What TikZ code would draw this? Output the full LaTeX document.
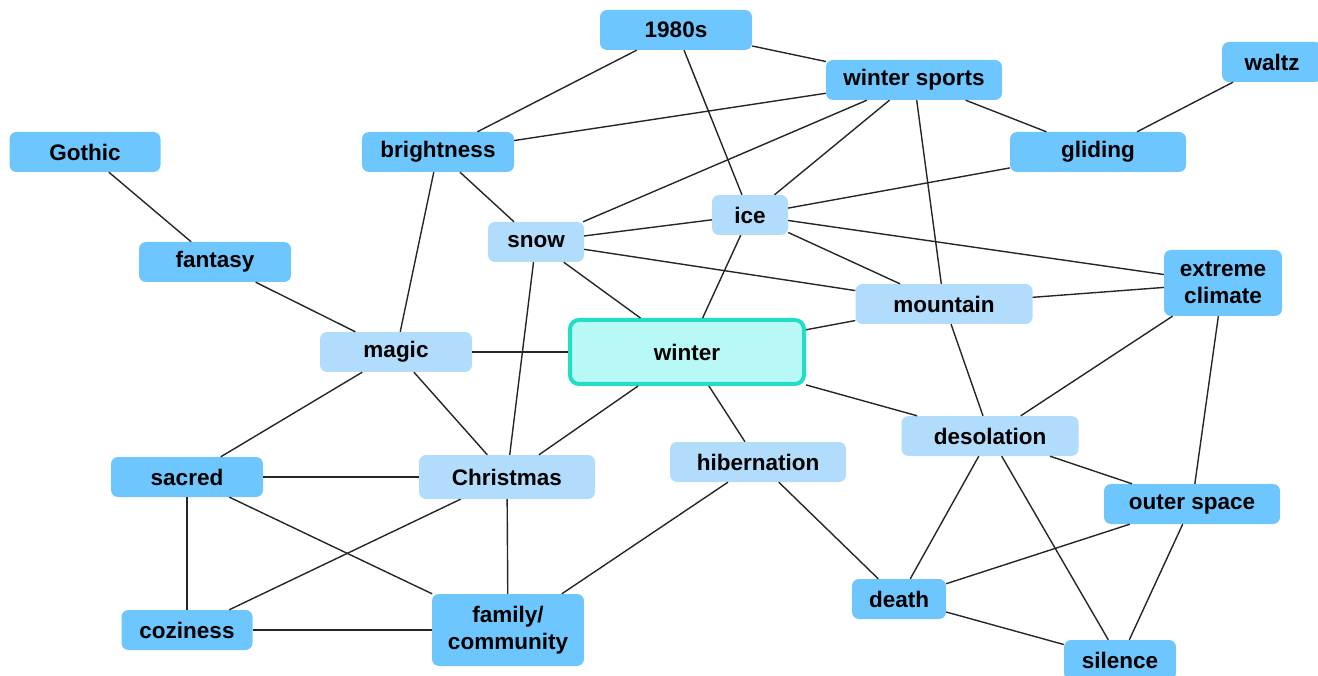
\documentclass[tikz,border=0pt]{standalone}
\usepackage{fontspec}
\setmainfont{Liberation Sans}
\definecolor{darkb}{HTML}{6EC6FF}
\definecolor{lightb}{HTML}{B1DCFB}
\definecolor{wfill}{HTML}{B8F9F8}
\definecolor{wborder}{HTML}{22DEC6}
\tikzset{
  base/.style={rectangle, rounded corners=7pt, inner sep=0pt, align=center,
    font=\fontsize{22.5}{27}\selectfont\bfseries, text=black},
  dk/.style={base, fill=darkb},
  lt/.style={base, fill=lightb},
  edge/.style={draw=black!85, line width=1.4pt},
}
\begin{document}
\begin{tikzpicture}[x=1pt,y=-1pt]
\useasboundingbox (0,0) rectangle (1318,676);
% nodes
\node[dk, minimum width=152pt, minimum height=40pt] (n1980) at (676,30) {1980s};
\node[dk, minimum width=176pt, minimum height=40pt] (sports) at (914,80) {winter sports};
\node[dk, minimum width=100pt, minimum height=40pt] (waltz) at (1272,62) {waltz};
\node[dk, minimum width=151pt, minimum height=40pt] (gothic) at (85,152) {Gothic};
\node[dk, minimum width=152pt, minimum height=40pt] (bright) at (438,152) {brightness};
\node[dk, minimum width=176pt, minimum height=40pt] (gliding) at (1098,152) {gliding};
\node[lt, minimum width=76pt, minimum height=40pt] (ice) at (750,215) {ice};
\node[lt, minimum width=96pt, minimum height=40pt] (snow) at (536,242) {snow};
\node[dk, minimum width=152pt, minimum height=40pt] (fantasy) at (215,262) {fantasy};
\node[dk, minimum width=118pt, minimum height=66pt] (extreme) at (1223,283) {extreme\\climate};
\node[lt, minimum width=177pt, minimum height=40pt] (mountain) at (944,304) {mountain};
\node[lt, minimum width=152pt, minimum height=40pt] (magic) at (396,352) {magic};
\node[base, fill=wfill, draw=wborder, line width=4pt, rounded corners=9pt,
      minimum width=234pt, minimum height=64pt] (winter) at (687,352) {winter};
\node[lt, minimum width=177pt, minimum height=40pt] (desol) at (990,436) {desolation};
\node[lt, minimum width=176pt, minimum height=40pt] (hib) at (758,462) {hibernation};
\node[dk, minimum width=152pt, minimum height=40pt] (sacred) at (187,477) {sacred};
\node[lt, minimum width=176pt, minimum height=44pt] (xmas) at (507,477) {Christmas};
\node[dk, minimum width=176pt, minimum height=40pt] (outer) at (1192,504) {outer space};
\node[dk, minimum width=94pt, minimum height=40pt] (death) at (899,599) {death};
\node[dk, minimum width=131pt, minimum height=40pt] (cozy) at (187,630) {coziness};
\node[dk, minimum width=152pt, minimum height=72pt] (family) at (508,630) {family/\\community};
\node[dk, minimum width=112pt, minimum height=40pt] (silence) at (1120,660) {silence};
% edges
\draw[edge] (n1980) -- (bright);
\draw[edge] (n1980) -- (sports);
\draw[edge] (n1980) -- (ice);
\draw[edge] (sports) -- (bright);
\draw[edge] (sports) -- (snow);
\draw[edge] (sports) -- (ice);
\draw[edge] (sports) -- (gliding);
\draw[edge] (sports) -- (mountain);
\draw[edge] (waltz) -- (gliding);
\draw[edge] (gothic) -- (fantasy);
\draw[edge] (fantasy) -- (magic);
\draw[edge] (bright) -- (snow);
\draw[edge] (bright) -- (magic);
\draw[edge] (gliding) -- (ice);
\draw[edge] (snow) -- (ice);
\draw[edge] (snow) -- (winter);
\draw[edge] (snow) -- (mountain);
\draw[edge] (snow) -- (xmas);
\draw[edge] (ice) -- (winter);
\draw[edge] (ice) -- (mountain);
\draw[edge] (ice) -- (extreme);
\draw[edge] (mountain) -- (extreme);
\draw[edge] (mountain) -- (winter);
\draw[edge] (mountain) -- (desol);
\draw[edge] (magic) -- (winter);
\draw[edge] (magic) -- (sacred);
\draw[edge] (magic) -- (xmas);
\draw[edge] (winter) -- (xmas);
\draw[edge] (winter) -- (hib);
\draw[edge] (winter) -- (desol);
\draw[edge] (extreme) -- (desol);
\draw[edge] (extreme) -- (outer);
\draw[edge] (desol) -- (outer);
\draw[edge] (desol) -- (death);
\draw[edge] (desol) -- (silence);
\draw[edge] (outer) -- (death);
\draw[edge] (outer) -- (silence);
\draw[edge] (hib) -- (death);
\draw[edge] (hib) -- (family);
\draw[edge] (sacred) -- (xmas);
\draw[edge] (sacred) -- (cozy);
\draw[edge] (sacred) -- (family);
\draw[edge] (xmas) -- (cozy);
\draw[edge] (xmas) -- (family);
\draw[edge] (cozy) -- (family);
\draw[edge] (death) -- (silence);
\end{tikzpicture}
\end{document}
